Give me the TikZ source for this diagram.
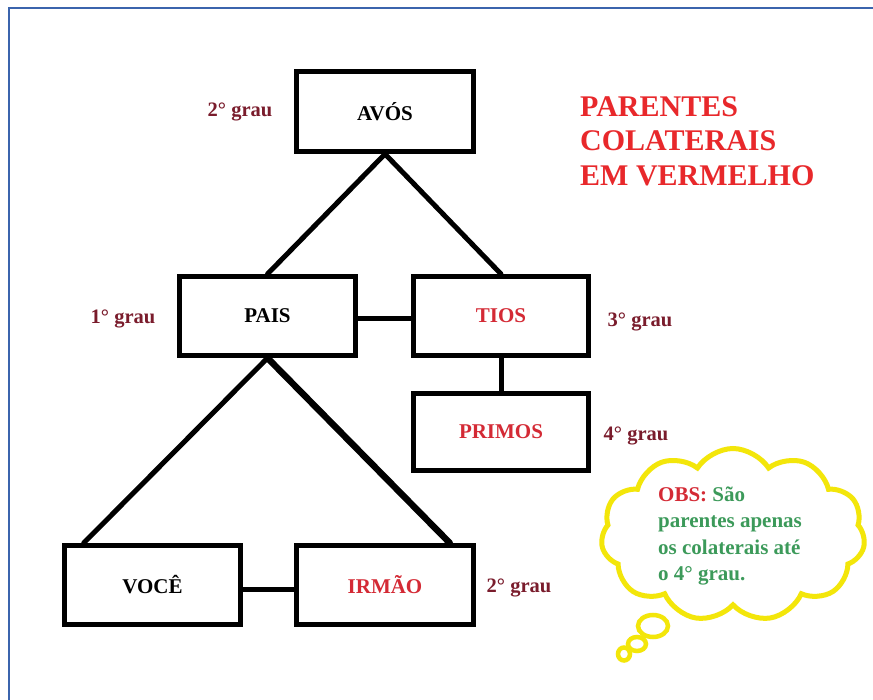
\documentclass[tikz,border=0pt]{standalone}
\usepackage{fontspec}
\setmainfont{Liberation Serif}
\usetikzlibrary{shapes.symbols,calc}
\definecolor{framebl}{HTML}{3B64AD}
\definecolor{grauc}{HTML}{7A1C2C}
\definecolor{titred}{HTML}{E8282B}
\definecolor{boxred}{HTML}{D42A35}
\definecolor{obsgreen}{HTML}{3C9A5A}
\definecolor{cloudy}{HTML}{F3E60A}
\begin{document}
\begin{tikzpicture}[x=1pt,y=-1pt,
  famb/.style={draw=black,line width=5pt,rectangle,inner sep=0pt,fill=white,
    font=\fontsize{21}{24}\selectfont\bfseries},
  conn/.style={draw=black,line width=5pt},
  grau/.style={text=grauc,inner sep=0pt,font=\fontsize{20.5}{23}\selectfont\bfseries},
  bubble/.style={draw=cloudy,line width=4.5pt,fill=white}]
\useasboundingbox (0,0) rectangle (873,700);
\fill[white] (0,0) rectangle (873,700);
\draw[framebl,line width=2.5pt] (9,700) -- (9,8) -- (873,8);

% boxes
\node[famb,minimum width=177pt,minimum height=80pt] (avos) at (385,111.5) {AVÓS};
\node[famb,minimum width=176pt,minimum height=79pt] (pais) at (267.5,316) {PAIS};
\node[famb,minimum width=175pt,minimum height=79pt,text=boxred] (tios) at (501,316) {TIOS};
\node[famb,minimum width=175pt,minimum height=77pt,text=boxred] (primos) at (501,432) {PRIMOS};
\node[famb,minimum width=176pt,minimum height=79pt] (voce) at (152.5,585) {VOCÊ};
\node[famb,minimum width=177pt,minimum height=79pt,text=boxred] (irmao) at (385,585) {IRMÃO};

% connectors
\draw[conn,line cap=round] (avos.south) -- (pais.north);
\draw[conn,line cap=round] (avos.south) -- (tios.north);
\draw[conn] ($(pais.east)+(0,3)$) -- ($(tios.west)+(0,3)$);
\draw[conn] (tios.south) -- (primos.north);
\draw[conn,line cap=round] (pais.south) -- ($(voce.north west)!0.12!(voce.north east)$);
\draw[conn,line width=6.5pt,line cap=round] (pais.south) -- ($(irmao.north west)!0.856!(irmao.north east)$);
\draw[conn] ($(voce.east)+(0,4)$) -- ($(irmao.west)+(0,4)$);

% degree labels
\node[grau] (g2a) at (240,112) {2° grau};
\node[grau] (g1) at (123,319) {1° grau};
\node[grau] (g3) at (640,322) {3° grau};
\node[grau] (g4) at (636,436) {4° grau};
\node[grau] (g2b) at (519,588) {2° grau};

% title
\node[anchor=west,inner sep=0pt,align=left,text=titred,
  font=\fontsize{30}{34.5}\selectfont\bfseries] (title) at (580,141)
  {PARENTES\\COLATERAIS\\EM VERMELHO};

% cloud
\node[cloud,draw=cloudy,line width=5pt,fill=white,cloud puffs=11,cloud puff arc=115,
  aspect=1.55,minimum width=264pt,minimum height=173pt,inner sep=0pt] (cloud) at (733,535) {};
\draw[bubble] (653,626) ellipse [x radius=15,y radius=11];
\draw[bubble] (637,644) ellipse [x radius=9,y radius=7];
\draw[bubble] (624,654) ellipse [x radius=6,y radius=6.5];
\node[anchor=west,inner sep=0pt,align=left,text=obsgreen,
  font=\fontsize{21}{26.2}\selectfont\bfseries] (obs) at (658,536)
  {\textcolor{boxred}{OBS:} São\\parentes apenas\\os colaterais até\\o 4° grau.};
\end{tikzpicture}
\end{document}
